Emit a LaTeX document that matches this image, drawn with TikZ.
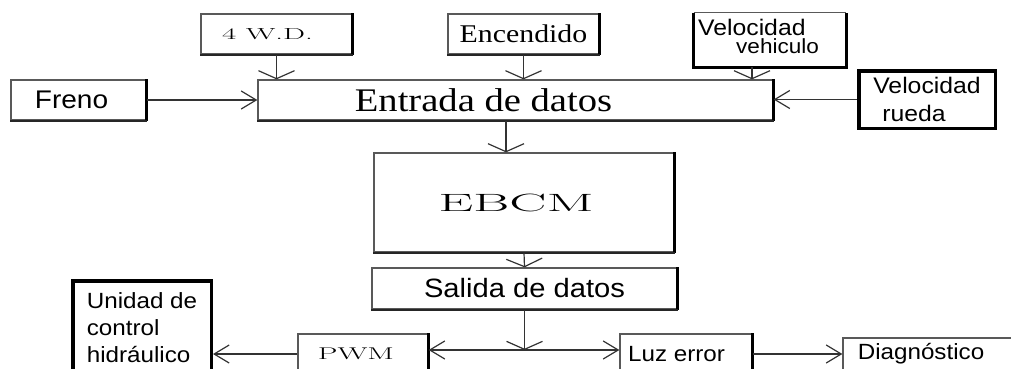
\documentclass[tikz,border=0pt]{standalone}
\usepackage{fontspec}
\usepackage{graphicx}
\usetikzlibrary{arrows.meta}
\newfontfamily\arialf[FakeStretch=1.1]{Liberation Sans}
\newfontfamily\seriff[FakeStretch=1.17]{Liberation Serif}
\begin{document}
\begin{tikzpicture}[x=1pt,y=-1pt,
  box/.style={draw=black!65, line width=1.3pt, inner sep=0pt, fill=white},
  heavy/.style={draw=black, line width=3.5pt, inner sep=0pt, fill=white},
  thinline/.style={draw=black!65, line width=1.3pt},
  thickline/.style={draw=black, line width=3.5pt},
  link/.style={draw=black!80, line width=1.2pt},
  varr/.style={link,-{Straight Barb[length=8pt,width=36pt]}},
  harr/.style={link,-{Straight Barb[length=15pt,width=18pt]}},
  redge/.style={line width=3pt, black},
  bedge/.style={line width=2pt, black!85},
  sans/.style={font={\arialf\fontsize{#1}{#1}\selectfont}},
]
\useasboundingbox (0,0) rectangle (1011,369);
\clip (0,0) rectangle (1011,369);
\fill[white] (0,0) rectangle (1011,369);

% top inputs
\node[box, minimum width=151pt, minimum height=40pt] (wd) at (276.5,34)
  {\fontsize{16}{16}\selectfont\scalebox{1.94}[1]{4 W.D.}\hspace*{18pt}};
\node[box, minimum width=151pt, minimum height=40pt,
  font={\seriff\fontsize{25.5}{25.5}\selectfont}] (enc) at (523.5,34) {Encendido};
\node[inner sep=0pt, minimum width=152.5pt, minimum height=54.25pt, fill=white] (vv) at (770,40.1) {};
\draw[thickline] (vv.north west) -- (vv.south west) -- (vv.south east) -- (vv.north east);
\draw[thinline] (vv.north west) -- (vv.north east);
\node[font={\arialf\fontsize{22.5}{18.5}\selectfont}, align=left, anchor=north west, inner sep=0pt]
  (vvtext) at (698,18.5) {Velocidad\\\hspace*{38pt}{\fontsize{20.5}{18.5}\selectfont vehiculo}};

\node[box, minimum width=135pt, minimum height=40pt, sans=25.5] (freno) at (78.5,100) {Freno\hspace*{14pt}};
\node[box, minimum width=515pt, minimum height=40pt,
  font={\seriff\fontsize{33}{33}\selectfont}] (entrada) at (515.5,100) {Entrada de datos\hspace*{64pt}};
\node[heavy, minimum width=136.5pt, minimum height=57.5pt, align=left,
  font={\arialf\fontsize{22.5}{28}\selectfont}] (rueda) at (927,99.5) {Velocidad\\\hspace*{9pt}rueda};

% core
\node[box, minimum width=300pt, minimum height=99pt] (ebcm) at (524,202.5)
  {\fontsize{25}{25}\selectfont\scalebox{2.22}[1]{EBCM}\hspace*{16pt}};
\node[box, minimum width=305pt, minimum height=41pt, sans=26.5] (salida) at (524.5,288.5) {Salida de datos};

% outputs
\node[heavy, minimum width=138.5pt, minimum height=94.5pt, align=left,
  font={\arialf\fontsize{22}{27}\selectfont}] (unidad) at (142,328) {Unidad de\\control\\hidráulico};
\node[box, minimum width=130pt, minimum height=40pt] (pwm) at (363,354)
  {\fontsize{17}{17}\selectfont\scalebox{1.84}[1]{PWM}\hspace*{14pt}};
\node[box, minimum width=132pt, minimum height=40pt, sans=22] (luz) at (686,354) {Luz error\hspace*{19pt}};
\node[box, minimum width=197pt, minimum height=32pt, sans=22] (diag) at (941.5,354) {Diagnóstico\hspace*{41pt}};

% shaded edges
\foreach \n in {wd,enc,freno,entrada,ebcm,salida,pwm,luz}
  \draw[redge] (\n.north east) -- (\n.south east);
\foreach \n in {wd,enc,freno,entrada,ebcm,salida}
  \draw[bedge] (\n.south west) -- (\n.south east);

% connectors
\draw[varr] (wd.south) -- (wd.south |- entrada.north);
\draw[varr] (enc.south) -- (enc.south |- entrada.north);
\draw[varr] ([xshift=-18pt]vv.south) -- ([xshift=-18pt]vv.south |- entrada.north);
\draw[harr] (freno.east) -- (entrada.west);
\draw[harr] (rueda.west) -- (rueda.west -| entrada.east);
\draw[varr] ([xshift=-18pt]ebcm.north |- entrada.south) -- ([xshift=-18pt]ebcm.north);
\draw[varr] (ebcm.south) -- (salida.north);
\coordinate (j) at (524.5,350);
\draw[varr] (salida.south) -- (j);
\draw[harr] (j) -- (j -| pwm.east);
\draw[harr] (j) -- (j -| luz.west);
\draw[harr] (pwm.west) -- (pwm.west -| unidad.east);
\draw[harr] (luz.east) -- (luz.east -| diag.west);
\end{tikzpicture}
\end{document}
